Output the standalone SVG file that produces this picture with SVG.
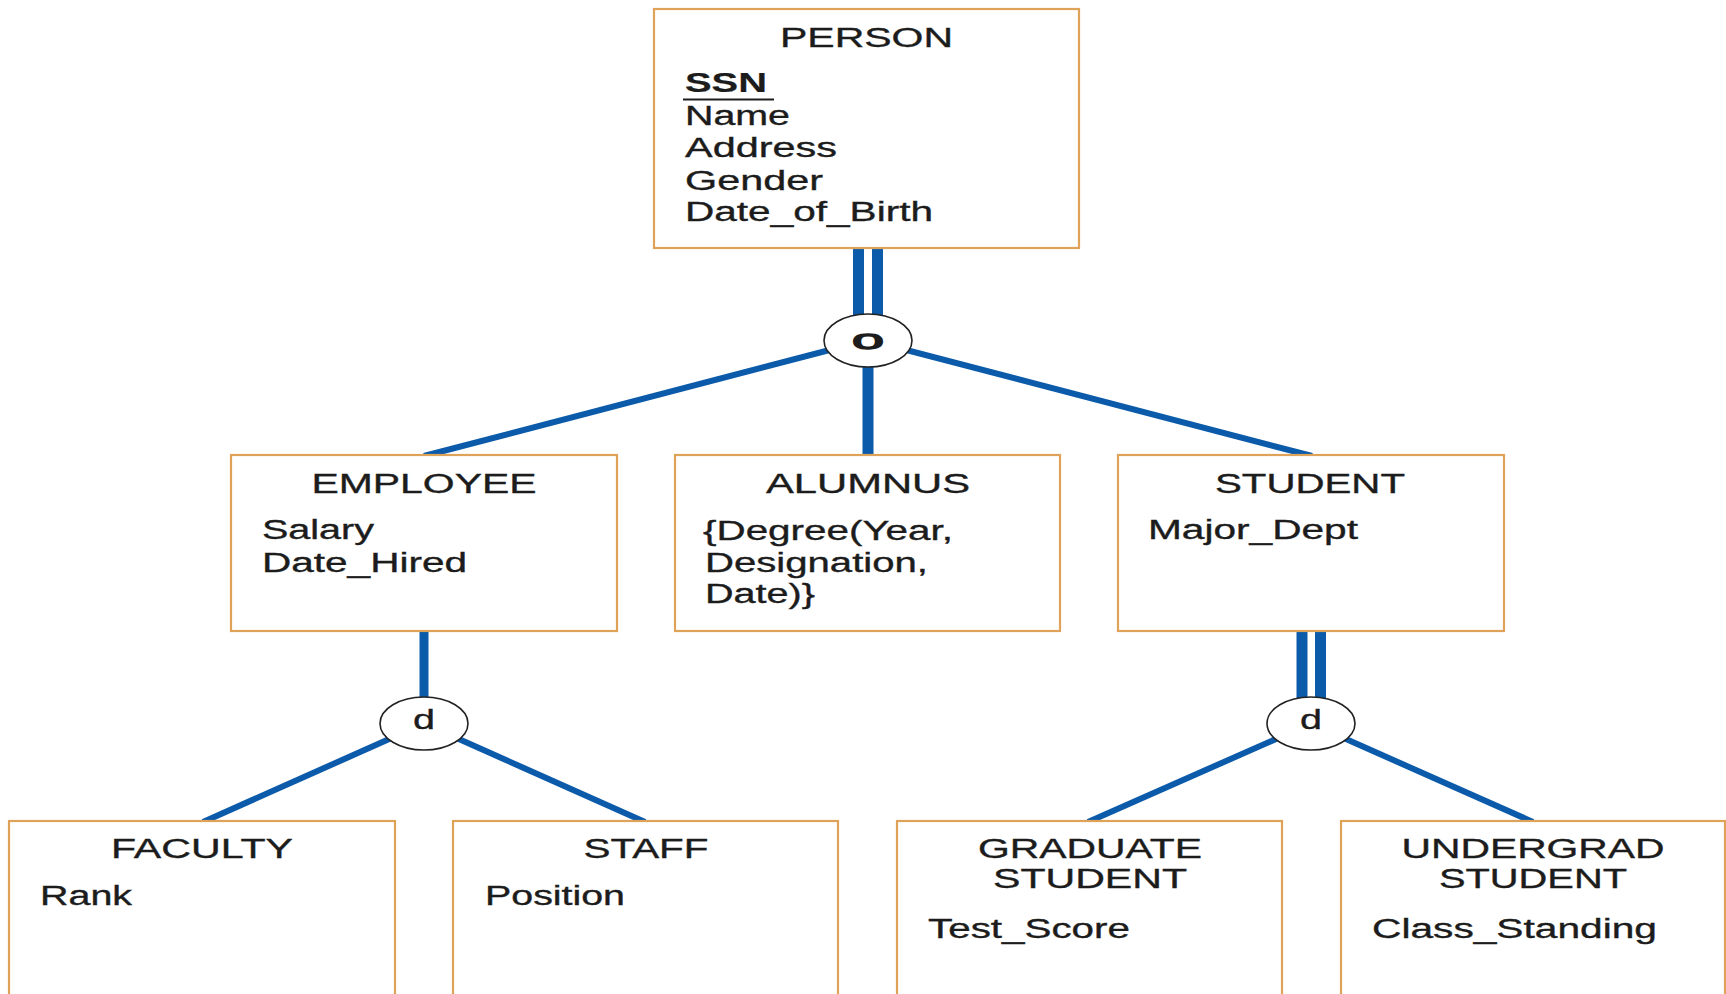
<svg xmlns="http://www.w3.org/2000/svg" width="1726" height="994" viewBox="0 0 1726 994">
  <style>
    .box { fill: #ffffff; stroke: #DFA259; stroke-width: 2.2; }
    .cat { fill: #ffffff; stroke: #222222; stroke-width: 1.6; }
    .link { stroke: #0B5BAA; fill: none; stroke-linecap: butt; }
    .thick { stroke-width: 11; }
    .diag { stroke-width: 6; }
    text { font-family: "Liberation Sans", Arial, Helvetica, sans-serif; fill: #1c1c1c; stroke: #1c1c1c; stroke-width: 0.35; font-size: 27px; }
    .title { text-anchor: middle; }
    .key { font-weight: bold; stroke-width: 0.2; }
    .sym { text-anchor: middle; }
  </style>

  <rect width="1726" height="994" fill="#ffffff"/>

  <!-- connectors -->
  <g id="connectors">
    <!-- PERSON to overlap circle (total participation: double line) -->
    <line class="link thick" x1="858.5" y1="248" x2="858.5" y2="330"/>
    <line class="link thick" x1="877.5" y1="248" x2="877.5" y2="330"/>
    <!-- overlap circle to subclasses -->
    <line class="link diag" x1="868" y1="340" x2="424" y2="456"/>
    <line class="link thick" x1="868" y1="340" x2="868" y2="456"/>
    <line class="link diag" x1="868" y1="340" x2="1312" y2="456"/>
    <!-- EMPLOYEE to disjoint circle -->
    <line class="link" stroke-width="9" x1="424" y1="631" x2="424" y2="710"/>
    <line class="link diag" x1="424" y1="723.5" x2="203" y2="822"/>
    <line class="link diag" x1="424" y1="723.5" x2="645" y2="822"/>
    <!-- STUDENT to disjoint circle (double line) -->
    <line class="link thick" x1="1302" y1="631" x2="1302" y2="710"/>
    <line class="link thick" x1="1320.5" y1="631" x2="1320.5" y2="710"/>
    <line class="link diag" x1="1311" y1="723.5" x2="1088" y2="822"/>
    <line class="link diag" x1="1311" y1="723.5" x2="1533" y2="822"/>
  </g>

  <!-- specialization circles -->
  <g id="circle-person">
    <ellipse class="cat" cx="868" cy="340.5" rx="44" ry="26.5"/>
    <text class="sym" x="868" y="349" font-size="31" textLength="32" lengthAdjust="spacingAndGlyphs" style="stroke-width:1.4">o</text>
  </g>
  <g id="circle-employee">
    <ellipse class="cat" cx="424" cy="723.5" rx="44" ry="26.5"/>
    <text class="sym" x="424" y="729" font-size="26" textLength="22" lengthAdjust="spacingAndGlyphs">d</text>
  </g>
  <g id="circle-student">
    <ellipse class="cat" cx="1311" cy="723.5" rx="44" ry="26.5"/>
    <text class="sym" x="1311" y="729" font-size="26" textLength="22" lengthAdjust="spacingAndGlyphs">d</text>
  </g>

  <!-- PERSON -->
  <g id="person">
    <rect class="box" x="654" y="9" width="425" height="239"/>
    <text class="title" x="866.5" y="47" textLength="173" lengthAdjust="spacingAndGlyphs">PERSON</text>
    <text class="key" x="685" y="92" textLength="82" lengthAdjust="spacingAndGlyphs">SSN</text>
    <line x1="683" y1="99.5" x2="774" y2="99.5" stroke="#1c1c1c" stroke-width="2"/>
    <text x="685" y="125" textLength="105" lengthAdjust="spacingAndGlyphs">Name</text>
    <text x="685" y="157" textLength="152" lengthAdjust="spacingAndGlyphs">Address</text>
    <text x="685" y="190" textLength="138" lengthAdjust="spacingAndGlyphs">Gender</text>
    <text x="685" y="221" textLength="248" lengthAdjust="spacingAndGlyphs">Date_of_Birth</text>
  </g>

  <!-- EMPLOYEE -->
  <g id="employee">
    <rect class="box" x="231" y="455" width="386" height="176"/>
    <text class="title" x="424" y="493" textLength="225" lengthAdjust="spacingAndGlyphs">EMPLOYEE</text>
    <text x="262" y="539" textLength="112" lengthAdjust="spacingAndGlyphs">Salary</text>
    <text x="262" y="572" textLength="205" lengthAdjust="spacingAndGlyphs">Date_Hired</text>
  </g>

  <!-- ALUMNUS -->
  <g id="alumnus">
    <rect class="box" x="675" y="455" width="385" height="176"/>
    <text class="title" x="868" y="493" textLength="204" lengthAdjust="spacingAndGlyphs">ALUMNUS</text>
    <text x="703" y="540" textLength="250" lengthAdjust="spacingAndGlyphs">{Degree(Year,</text>
    <text x="705" y="572" textLength="223" lengthAdjust="spacingAndGlyphs">Designation,</text>
    <text x="705" y="603" textLength="110" lengthAdjust="spacingAndGlyphs">Date)}</text>
  </g>

  <!-- STUDENT -->
  <g id="student">
    <rect class="box" x="1118" y="455" width="386" height="176"/>
    <text class="title" x="1310" y="493" textLength="190" lengthAdjust="spacingAndGlyphs">STUDENT</text>
    <text x="1148" y="539" textLength="210" lengthAdjust="spacingAndGlyphs">Major_Dept</text>
  </g>

  <!-- FACULTY -->
  <g id="faculty">
    <rect class="box" x="9" y="821" width="386" height="190"/>
    <text class="title" x="202" y="858" textLength="182" lengthAdjust="spacingAndGlyphs">FACULTY</text>
    <text x="40" y="905" textLength="92" lengthAdjust="spacingAndGlyphs">Rank</text>
  </g>

  <!-- STAFF -->
  <g id="staff">
    <rect class="box" x="453" y="821" width="385" height="190"/>
    <text class="title" x="646" y="858" textLength="125" lengthAdjust="spacingAndGlyphs">STAFF</text>
    <text x="485" y="905" textLength="140" lengthAdjust="spacingAndGlyphs">Position</text>
  </g>

  <!-- GRADUATE STUDENT -->
  <g id="graduate-student">
    <rect class="box" x="897" y="821" width="385" height="190"/>
    <text class="title" x="1090" y="858" textLength="224" lengthAdjust="spacingAndGlyphs">GRADUATE</text>
    <text class="title" x="1090" y="888" textLength="194" lengthAdjust="spacingAndGlyphs">STUDENT</text>
    <text x="928" y="938" textLength="202" lengthAdjust="spacingAndGlyphs">Test_Score</text>
  </g>

  <!-- UNDERGRAD STUDENT -->
  <g id="undergrad-student">
    <rect class="box" x="1341" y="821" width="384" height="190"/>
    <text class="title" x="1533" y="858" textLength="263" lengthAdjust="spacingAndGlyphs">UNDERGRAD</text>
    <text class="title" x="1533" y="888" textLength="188" lengthAdjust="spacingAndGlyphs">STUDENT</text>
    <text x="1372" y="938" textLength="285" lengthAdjust="spacingAndGlyphs">Class_Standing</text>
  </g>
</svg>
